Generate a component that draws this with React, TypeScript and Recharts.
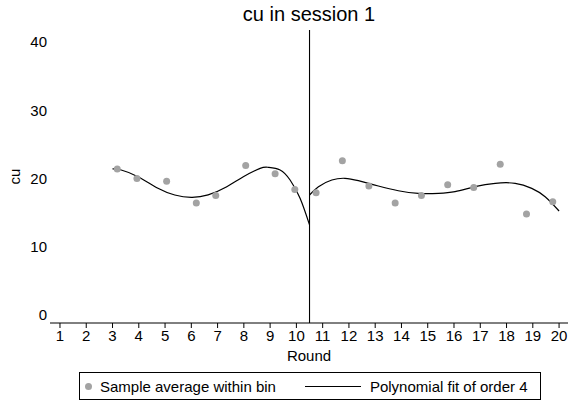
import React from "react";
import {
  ComposedChart,
  Scatter,
  Line,
  XAxis,
  YAxis,
  ReferenceLine,
} from "recharts";

// binned sample averages
const binRounds = [3.18, 3.93, 5.06, 6.19, 6.93, 8.07, 9.19, 9.94, 10.75, 11.75, 12.76, 13.76, 14.76, 15.76, 16.75, 17.76, 18.76, 19.76];
const binAverages = [21.4, 20.0, 19.6, 16.4, 17.5, 21.9, 20.7, 18.4, 17.9, 22.6, 18.9, 16.4, 17.5, 19.1, 18.7, 22.1, 14.8, 16.6];

// polynomial fit (before / after the cutoff)
const fitLeftRounds = [3.0, 3.33, 3.97, 4.73, 5.37, 6.0, 6.64, 7.35, 7.98, 8.62, 8.93, 9.38, 9.76, 10.14, 10.5];
const fitLeftValues = [21.4, 21.25, 20.26, 18.56, 17.58, 17.24, 17.6, 18.8, 20.26, 21.49, 21.64, 21.25, 19.78, 17.1, 13.2];
const fitRightRounds = [10.5, 10.84, 11.35, 11.85, 12.36, 13.12, 13.88, 14.64, 15.41, 16.04, 16.8, 17.57, 18.33, 18.96, 19.47, 20.0];
const fitRightValues = [17.58, 18.8, 19.78, 20.03, 19.68, 18.9, 18.21, 17.83, 17.83, 18.07, 18.8, 19.3, 19.3, 18.56, 17.33, 15.24];

const roundTicks = [1, 2, 3, 4, 5, 6, 7, 8, 9, 10, 11, 12, 13, 14, 15, 16, 17, 18, 19, 20];
const cuTicks = [0, 10, 20, 30, 40];
const cutoff = 10.5;

const FONT = "'Liberation Sans', Arial, Helvetica, sans-serif";

const bins = binRounds.map((x, i) => ({ x, y: binAverages[i] }));
const fitLeft = fitLeftRounds.map((x, i) => ({ x, y: fitLeftValues[i] }));
const fitRight = fitRightRounds.map((x, i) => ({ x, y: fitRightValues[i] }));

const Dot = (props: any) => <circle cx={props.cx} cy={props.cy} r={3.5} fill="#a3a3a3" />;

export default function App() {
  const tick = { fontFamily: FONT, fontSize: 15, fill: "#000" };
  return (
    <div style={{ position: "absolute", left: 0, top: 0, width: 579, height: 402, background: "#fff", fontFamily: FONT }}>
      <div style={{ position: "absolute", left: 0, top: 3, width: 618, textAlign: "center", fontSize: 20 }}>cu in session 1</div>
      <ComposedChart width={579} height={402} margin={{ top: 30, right: 11, bottom: 39, left: 0 }}>
        <XAxis
          dataKey="x"
          type="number"
          domain={[0.62, 20.34]}
          ticks={roundTicks}
          interval={0}
          allowDataOverflow
          tick={tick}
          tickSize={5}
          tickMargin={2}
          stroke="#000"
          height={40}
          label={{ value: "Round", position: "insideBottom", offset: 2, style: { fontFamily: FONT, fontSize: 15, fill: "#000" } }}
        />
        <YAxis
          dataKey="y"
          type="number"
          domain={[-1.17, 41.76]}
          ticks={cuTicks}
          allowDataOverflow
          axisLine={false}
          tickLine={false}
          tickSize={0}
          tickMargin={3}
          tick={tick}
          width={50}
          label={{ value: "cu", angle: -90, position: "insideLeft", offset: 15, style: { fontFamily: FONT, fontSize: 15, fill: "#000", textAnchor: "middle" } }}
        />
        <ReferenceLine x={cutoff} stroke="#000" strokeWidth={1.1} />
        <Scatter data={bins} dataKey="y" shape={Dot} isAnimationActive={false} />
        <Line data={fitLeft} dataKey="y" type="natural" stroke="#000" strokeWidth={1.2} dot={false} isAnimationActive={false} />
        <Line data={fitRight} dataKey="y" type="natural" stroke="#000" strokeWidth={1.2} dot={false} isAnimationActive={false} />
      </ComposedChart>
      <div
        style={{
          position: "absolute",
          left: 79,
          top: 372,
          width: 460,
          height: 26,
          border: "1px solid #000",
          fontSize: 15,
          display: "flex",
          alignItems: "center",
        }}
      >
        <span style={{ display: "inline-block", width: 7, height: 7, borderRadius: 4, background: "#a3a3a3", marginLeft: 5 }} />
        <span style={{ marginLeft: 8 }}>Sample average within bin</span>
        <span style={{ display: "inline-block", width: 56, height: 1, background: "#000", marginLeft: 29 }} />
        <span style={{ marginLeft: 9 }}>Polynomial fit of order 4</span>
      </div>
    </div>
  );
}
